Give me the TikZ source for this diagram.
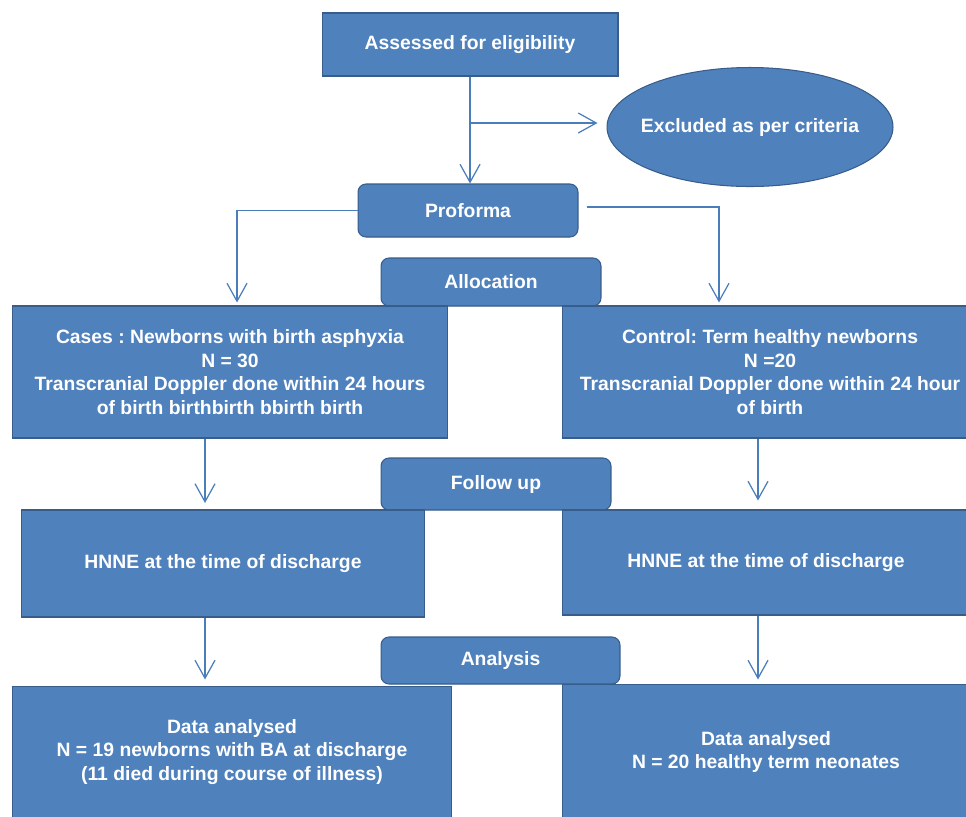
\documentclass[tikz,border=0pt]{standalone}
\usepackage{fontspec}
\setmainfont{Liberation Sans}
\usetikzlibrary{arrows.meta,shapes.geometric}
\definecolor{boxfill}{RGB}{79,129,189}
\definecolor{boxline}{RGB}{56,93,138}
\definecolor{linkcol}{RGB}{74,126,187}
\frenchspacing
\begin{document}
\begin{tikzpicture}[x=0.02cm,y=-0.02cm,
    box/.style={draw=boxline,fill=boxfill,line width=0.6pt,text=white,align=center,
        font=\fontsize{11}{13.5}\selectfont\bfseries,inner sep=0pt},
    rbox/.style={box,rounded corners=0.16cm},
    link/.style={draw=linkcol,line width=0.7pt,-{Straight Barb[length=0.36cm,width=0.4cm]}}]
    \useasboundingbox[fill=white] (0,0) rectangle (966,816);
    % top part
    \node[box,minimum width=5.92cm,minimum height=1.26cm] (assess) at (470,44.5) {Assessed for eligibility};
    \node[box,ellipse,inner xsep=-0.2cm,minimum width=5.72cm,minimum height=2.38cm] (excl) at (750,127) {Excluded as per criteria};
    \node[rbox,minimum width=4.4cm,minimum height=1.06cm] (proforma) at (468,210.5) {Proforma};
    \node[rbox,minimum width=4.4cm,minimum height=0.96cm] (alloc) at (491,282) {Allocation};
    % groups
    \node[box,minimum width=8.72cm,minimum height=2.64cm] (cases) at (230,372) {Cases : Newborns with birth asphyxia\\N = 30\\Transcranial Doppler done within 24 hours\\of birth birthbirth bbirth birth};
    \node[box,minimum width=8.32cm,minimum height=2.64cm] (ctrl) at (770,372) {Control: Term healthy newborns\\N =20\\Transcranial Doppler done within 24 hour\\of birth};
    \node[rbox,minimum width=4.6cm,minimum height=1.04cm] (follow) at (496,484) {Follow up};
    \node[box,minimum width=8.08cm,minimum height=2.14cm] (hnneL) at (223,563.5) {HNNE at the time of discharge};
    \node[box,minimum width=8.16cm,minimum height=2.1cm] (hnneR) at (766,562.5) {HNNE at the time of discharge};
    \node[rbox,minimum width=4.78cm,minimum height=0.94cm] (analysis) at (500.5,660.5) {Analysis};
    \node[box,minimum width=8.8cm,minimum height=2.64cm] (dataL) at (232,752) {Data analysed\\N = 19 newborns with BA at discharge\\(11 died during course of illness)};
    \node[box,minimum width=8.16cm,minimum height=2.72cm] (dataR) at (766,752) {Data analysed\\N = 20 healthy term neonates};
    \coordinate (colL) at (205,0);
    \coordinate (colR) at (758,0);
    \coordinate (split) at (470,123);
    % connectors
    \draw[link] (assess.south) -- (assess.south |- proforma.north);
    \draw[link,shorten >=0.18cm] (split) -- (split -| excl.west);
    \draw[link,shorten >=0.06cm] (proforma.west) -| ([xshift=0.14cm]cases.north);
    \draw[link,shorten >=0.06cm] ([xshift=0.16cm,yshift=0.07cm]proforma.east) -| ([xshift=-1.02cm]ctrl.north);
    \draw[link,shorten >=0.13cm] (cases.south -| colL) -- (hnneL.north -| colL);
    \draw[link,shorten >=0.18cm] (ctrl.south -| colR) -- (hnneR.north -| colR);
    \draw[link,shorten >=0.12cm] (hnneL.south -| colL) -- (dataL.north -| colL);
    \draw[link,shorten >=0.08cm] (hnneR.south -| colR) -- (dataR.north -| colR);
\end{tikzpicture}
\end{document}
